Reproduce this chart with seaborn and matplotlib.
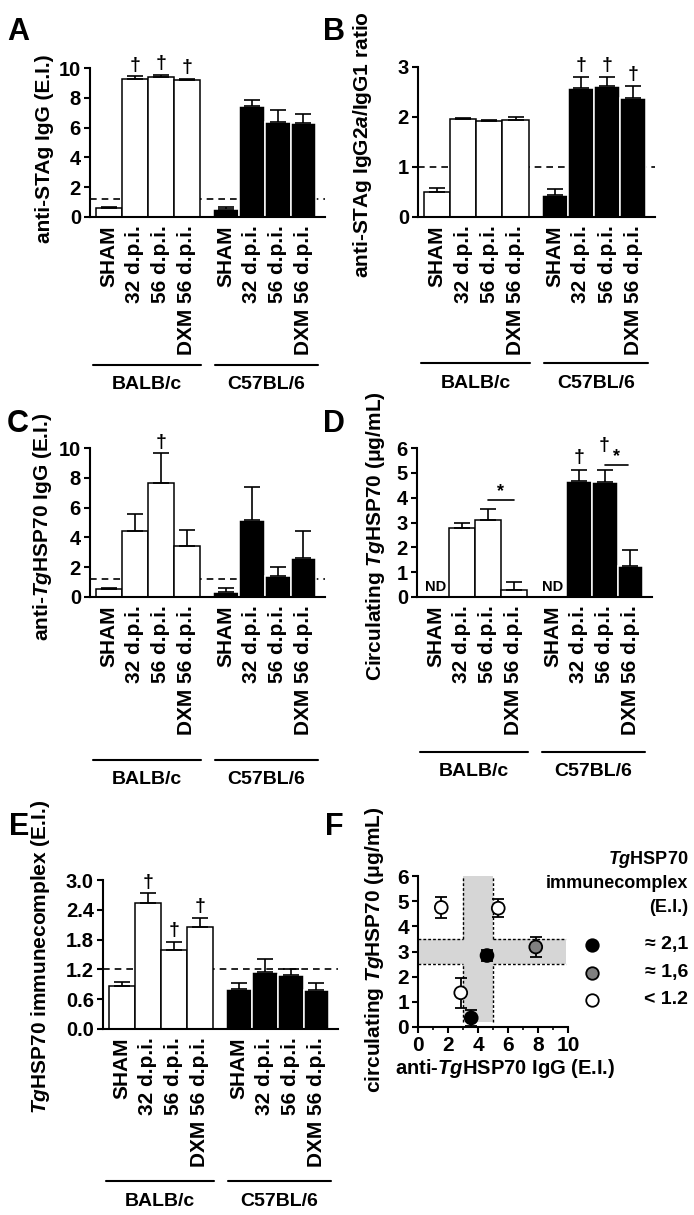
import numpy as np
import pandas as pd
import seaborn as sns
import matplotlib.pyplot as plt
from matplotlib.transforms import blended_transform_factory

sns.set_theme(style='ticks')
plt.rcParams['font.family'] = ['Liberation Sans', 'DejaVu Sans']
plt.rcParams['font.weight'] = 'bold'
plt.rcParams['axes.labelweight'] = 'bold'
plt.rcParams['mathtext.fontset'] = 'custom'
plt.rcParams['mathtext.rm'] = 'Liberation Sans:bold'
plt.rcParams['mathtext.it'] = 'Liberation Sans:italic:bold'
plt.rcParams['mathtext.bf'] = 'Liberation Sans:bold'
for k in ['axes.edgecolor', 'xtick.color', 'ytick.color', 'text.color', 'axes.labelcolor']:
    plt.rcParams[k] = 'black'

# ---- data ----
groups = ['SHAM', '32 d.p.i.', '56 d.p.i.', 'DXM 56 d.p.i.']
strains = ['BALB/c', 'C57BL/6']

a_mean = [0.62, 9.24, 9.40, 9.17, 0.54, 7.45, 6.38, 6.30]
a_sem = [0.05, 0.20, 0.15, 0.11, 0.15, 0.40, 0.78, 0.60]
a_dag = [1, 2, 3]

b_mean = [0.51, 1.96, 1.92, 1.95, 0.45, 2.59, 2.62, 2.39]
b_sem = [0.08, 0.03, 0.02, 0.06, 0.12, 0.22, 0.18, 0.23]
b_dag = [5, 6, 7]

c_mean = [0.52, 4.43, 7.67, 3.42, 0.32, 5.17, 1.43, 2.64]
c_sem = [0.06, 1.14, 1.97, 1.08, 0.30, 2.23, 0.60, 1.81]
c_dag = [2]

d_mean = [np.nan, 2.79, 3.10, 0.30, np.nan, 4.66, 4.62, 1.24]
d_sem = [np.nan, 0.21, 0.44, 0.31, np.nan, 0.44, 0.51, 0.65]
d_dag = [5, 6]
d_nd = [0, 4]
d_sig = [(2, 3, 3.9), (6.5, 7.4, 5.33)]   # x from, x to (bar slots), height

e_mean = [0.87, 2.53, 1.59, 2.06, 0.81, 1.14, 1.09, 0.78]
e_sem = [0.07, 0.20, 0.17, 0.18, 0.11, 0.27, 0.11, 0.14]
e_dag = [1, 2, 3]

cutoff_a, cutoff_b, cutoff_c, cutoff_e = 1.2, 1.0, 1.2, 1.2

# panel F
f_igg = [4.6, 3.55, 7.85, 5.35, 1.55, 2.85]
f_hsp = [2.84, 0.36, 3.18, 4.72, 4.75, 1.36]
f_err = [0.2, 0.33, 0.4, 0.36, 0.42, 0.6]
f_ic = ['≈ 2,1', '≈ 2,1', '≈ 1,6', '< 1.2', '< 1.2', '< 1.2']
ic_levels = ['≈ 2,1', '≈ 1,6', '< 1.2']
ic_colors = {'≈ 2,1': 'black', '≈ 1,6': '#808080', '< 1.2': 'white'}
band_igg = (3, 5)
band_hsp = (2.5, 3.5)

# ---- layout ----
W, H = 694, 1215
fig = plt.figure(figsize=(W / 100, H / 100), dpi=100)


def add_ax(x0, x1, top, bottom):
    return fig.add_axes([x0 / W, 1 - bottom / H, (x1 - x0) / W, (bottom - top) / H])


pos = [i + 4.5 * s for s in range(2) for i in range(4)]
strain_col = [s for s in strains for _ in range(4)]
pal = {'BALB/c': 'white', 'C57BL/6': 'black'}


def bar_panel(ax, mean, sem, ylim, step, ylabel, lab_xy, cutoff=None, dags=(),
              dag_off=None, line_dy=148, fmt='%g'):
    df = pd.DataFrame({'pos': pos, 'mean': mean, 'sem': sem, 'strain': strain_col}).dropna()
    if cutoff is not None:
        ax.axhline(cutoff, ls=(0, (4, 3)), color='black', lw=1.2, zorder=0.5)
    sns.barplot(data=df, x='pos', y='mean', hue='strain', palette=pal, native_scale=True,
                width=1.0, dodge=False, edgecolor='black', linewidth=1.1, saturation=1,
                errorbar=None, legend=False, ax=ax)
    for p in ax.patches:
        if p.get_facecolor()[0] < 0.5:
            p.set_edgecolor('white')
    ax.errorbar(df['pos'], df['mean'], yerr=[np.zeros(len(df)), df['sem']], fmt='none',
                ecolor='black', elinewidth=1.2, capsize=5.5, capthick=1.2, zorder=3)
    for i in dags:
        off = 2 if dag_off is None else dag_off.get(i, 2)
        ax.annotate('†', (pos[i], mean[i] + sem[i]), xytext=(0, off), textcoords='offset points',
                    ha='center', va='bottom', fontsize=14, fontweight='bold')
    ax.set_xlim(-0.73, 8.33)
    ax.set_ylim(*ylim)
    ax.set_yticks(np.arange(ylim[0], ylim[1] + step / 2, step))
    ax.yaxis.set_major_formatter(plt.FormatStrFormatter(fmt))
    ax.set_xticks(pos)
    ax.set_xticklabels(groups * 2, rotation=90)
    ax.tick_params(axis='x', length=0, pad=6, labelsize=15)
    ax.tick_params(axis='y', length=4.5, width=1.5, labelsize=14.5, pad=2)
    for sp in ['left', 'bottom']:
        ax.spines[sp].set_linewidth(1.5)
    sns.despine(ax=ax)
    ax.set_xlabel('')
    ax.set_ylabel(ylabel, fontsize=15, fontweight='bold')
    ax.yaxis.set_label_coords(*lab_xy)
    # strain brackets
    hpx = ax.get_position().height * H
    tr = blended_transform_factory(ax.transData, ax.transAxes)
    for s, (x0, x1) in zip(strains, [(-0.62, 3.55), (4.1, 8.05)]):
        ax.plot([x0, x1], [-line_dy / hpx] * 2, color='black', lw=1.5, transform=tr, clip_on=False)
        ax.text((x0 + x1) / 2, -(line_dy + 20) / hpx, s, transform=tr, ha='center', va='center',
                fontsize=14, fontweight='bold')


axA = add_ax(90, 325, 68, 217)
bar_panel(axA, a_mean, a_sem, (0, 10), 2, 'anti-STAg IgG (E.I.)', (-0.153, 0.456),
          cutoff_a, a_dag)

axB = add_ax(418, 655, 67, 217)
bar_panel(axB, b_mean, b_sem, (0, 3), 1, r'anti-STAg IgG2$\mathit{a}$/IgG1 ratio', (-0.186, 0.48),
          cutoff_b, b_dag, line_dy=146)

axC = add_ax(90, 325, 448, 597)
bar_panel(axC, c_mean, c_sem, (0, 10), 2, r'anti-$\mathit{Tg}$HSP70 IgG (E.I.)', (-0.153, 0.473),
          cutoff_c, c_dag, line_dy=163)

axD = add_ax(417, 652, 448, 597)
bar_panel(axD, d_mean, d_sem, (0, 6), 1, r'Circulating $\mathit{Tg}$HSP70 ($\mathbf{\mu}$g/mL)',
          (-0.128, 0.41), None, d_dag, dag_off={5: 3, 6: 11}, line_dy=155)
for i in d_nd:
    axD.text(pos[i], 0.12, 'ND', ha='center', va='bottom', fontsize=10.5, fontweight='bold')
for x0, x1, y in d_sig:
    axD.plot([x0, x1], [y, y], color='black', lw=1.2)
    axD.text((x0 + x1) / 2, y, '*', ha='center', va='bottom', fontsize=13, fontweight='bold')

axE = add_ax(103, 338, 880, 1029)
bar_panel(axE, e_mean, e_sem, (0, 3.0), 0.6, r'$\mathit{Tg}$HSP70 immunecomplex (E.I.)',
          (-0.217, 0.483), cutoff_e, e_dag, line_dy=152, fmt='%.1f')

# ---- panel F ----
axF = add_ax(418, 568, 876, 1027)
axF.fill_between([band_igg[0], band_igg[1]], 0.2, 6, color='#d6d6d6', lw=0, zorder=0)
axF.fill_between([0, 9.85], band_hsp[0], band_hsp[1], color='#d6d6d6', lw=0, zorder=0)
dot = dict(color='black', lw=1.0, ls=(0, (2, 1.5)), zorder=1)
for xv in band_igg:
    axF.plot([xv, xv], [band_hsp[1], 6], **dot)
    axF.plot([xv, xv], [0.2, band_hsp[0]], **dot)
for yv in band_hsp:
    axF.plot([0, band_igg[0]], [yv, yv], **dot)
    axF.plot([band_igg[1], 9.85], [yv, yv], **dot)
axF.errorbar(f_igg, f_hsp, yerr=f_err, fmt='none', ecolor='black', elinewidth=1.3,
             capsize=4.5, capthick=1.3, zorder=3)
dff = pd.DataFrame({'igg': f_igg, 'hsp': f_hsp, 'ic': f_ic})
sns.scatterplot(data=dff, x='igg', y='hsp', hue='ic', hue_order=ic_levels, palette=ic_colors,
                s=85, edgecolor='black', linewidth=1.3, legend=False, ax=axF, zorder=4)
axF.set_xlim(0, 10)
axF.set_ylim(0, 6)
axF.set_xticks(np.arange(0, 11, 2))
axF.set_xticks(np.arange(0, 11, 1), minor=True)
axF.set_yticks(np.arange(0, 7, 1))
axF.tick_params(axis='both', which='major', length=4.5, width=1.5, labelsize=15, pad=2)
axF.tick_params(axis='both', which='minor', length=2.5, width=1.2)
for sp in ['left', 'bottom']:
    axF.spines[sp].set_linewidth(1.5)
sns.despine(ax=axF)
axF.set_xlabel(r'anti-$\mathit{Tg}$HSP70 IgG (E.I.)', fontsize=14.5, fontweight='bold')
axF.xaxis.set_label_coords(0.58, -0.2)
axF.set_ylabel(r'circulating $\mathit{Tg}$HSP70 ($\mathbf{\mu}$g/mL)', fontsize=15, fontweight='bold')
axF.yaxis.set_label_coords(-0.213, 0.51)

# legend for F
for txt, yp in zip([r'$\mathit{Tg}$HSP70', 'immunecomplex', '(E.I.)'], [860, 883, 907]):
    fig.text(688 / W, 1 - yp / H, txt, ha='right', va='center', fontsize=13, fontweight='bold')
for lev, yp in zip(ic_levels, [945, 973, 1000]):
    axF.plot([592 / W], [1 - yp / H], marker='o', ms=9, mfc=ic_colors[lev], mec='black', mew=1.3,
             transform=fig.transFigure, clip_on=False)
    fig.text(688 / W, 1 - yp / H, lev, ha='right', va='center', fontsize=14, fontweight='bold',
             family=['Liberation Sans', 'DejaVu Sans'])

# panel letters
for letter, xp, yp in [('A', 7, 17), ('B', 323, 17), ('C', 7, 409), ('D', 323, 409),
                       ('E', 9, 812), ('F', 325, 812)]:
    fig.text(xp / W, 1 - yp / H, letter, ha='left', va='top', fontsize=22, fontweight='bold')

fig.savefig('out.png', dpi=100)
